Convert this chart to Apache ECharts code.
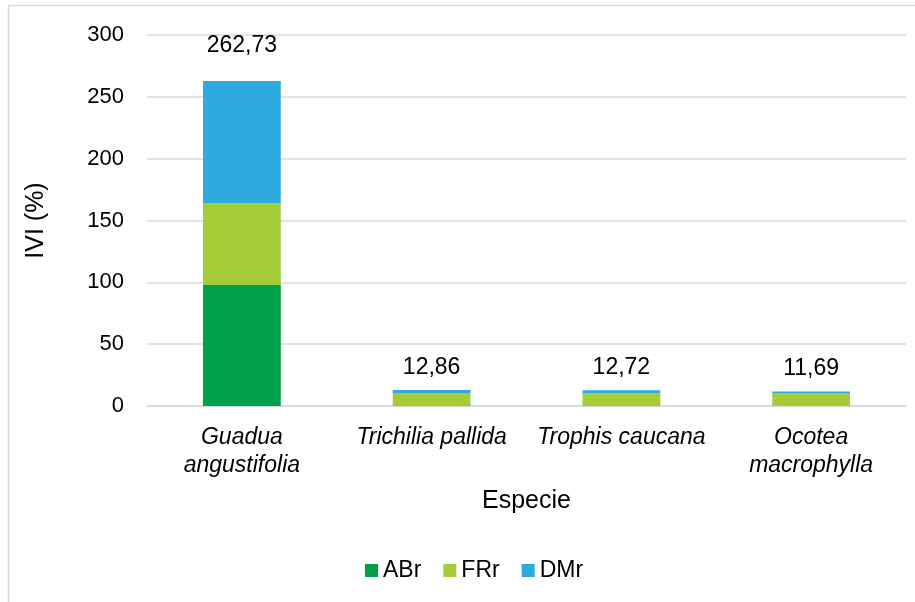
<!DOCTYPE html>
<html><head><meta charset="utf-8">
<script src="https://cdn.jsdelivr.net/npm/echarts@6/dist/echarts.min.js"></script>
<style>html,body{margin:0;padding:0;background:#fff}#c{width:915px;height:602px}</style>
</head><body><div id="c"></div>
<script>
var categories = ['Guadua\nangustifolia', 'Trichilia pallida', 'Trophis caucana', 'Ocotea\nmacrophylla'];
var ABr = [97.8, 0.45, 0.4, 0.3];
var FRr = [66.3, 10.0, 10.0, 10.2];
var DMr = [98.63, 2.41, 2.32, 1.19];
var totals = [262.73, 12.86, 12.72, 11.69];
var yTicks = [0, 50, 100, 150, 200, 250, 300];

var labelGap = [24, 11, 11, 11];
var chart = echarts.init(document.getElementById('c'));
var font = 'Liberation Sans, Arial, sans-serif';
chart.setOption({
  animation: false,
  textStyle: {fontFamily: font},
  graphic: [{type: 'rect', shape: {x: 8.5, y: 5.5, width: 920, height: 610}, style: {fill: 'none', stroke: '#d9d9d9', lineWidth: 1.5}, z: -1}],
  grid: {left: 147, right: 9, top: 35, bottom: 196, containLabel: false},
  legend: {
    data: ['ABr', 'FRr', 'DMr'], top: 554, left: 360, itemWidth: 13, itemHeight: 13, itemGap: 22,
    icon: 'rect', textStyle: {fontSize: 23, color: '#000', fontFamily: font}, itemTextGap: 3
  },
  xAxis: {
    type: 'category', data: categories,
    name: 'Especie', nameLocation: 'middle', nameGap: 83,
    nameTextStyle: {fontSize: 25, color: '#000', fontFamily: font},
    axisLine: {lineStyle: {color: '#d9d9d9', width: 1.5}},
    axisTick: {show: false},
    axisLabel: {fontSize: 23, color: '#000', fontStyle: 'italic', lineHeight: 28, margin: 18, interval: 0, fontFamily: font}
  },
  yAxis: {
    type: 'value', min: 0, max: 300, interval: 50,
    name: 'IVI (%)', nameLocation: 'middle', nameGap: 98, nameRotate: 90,
    nameTextStyle: {fontSize: 25, color: '#000', fontFamily: font},
    axisLine: {show: false}, axisTick: {show: false},
    axisLabel: {fontSize: 22, color: '#000', margin: 23, fontFamily: font,
      formatter: function (v) { return yTicks.indexOf(v) >= 0 ? String(v) : ''; }},
    splitLine: {lineStyle: {color: '#d9d9d9', width: 1.5}}
  },
  series: [
    {name: 'ABr', type: 'bar', stack: 's', data: ABr, barWidth: '41%', itemStyle: {color: '#00a14b'}},
    {name: 'FRr', type: 'bar', stack: 's', data: FRr, itemStyle: {color: '#a5cd39'}},
    {name: 'DMr', type: 'bar', stack: 's', itemStyle: {color: '#2eaadf'},
      data: DMr.map(function (v, i) {
        return {value: v, label: {distance: labelGap[i]}};
      }),
      label: {show: true, position: 'top', fontSize: 23, color: '#000', fontFamily: font,
        formatter: function (p) { return totals[p.dataIndex].toFixed(2).replace('.', ','); }}}
  ]
});
</script></body></html>
